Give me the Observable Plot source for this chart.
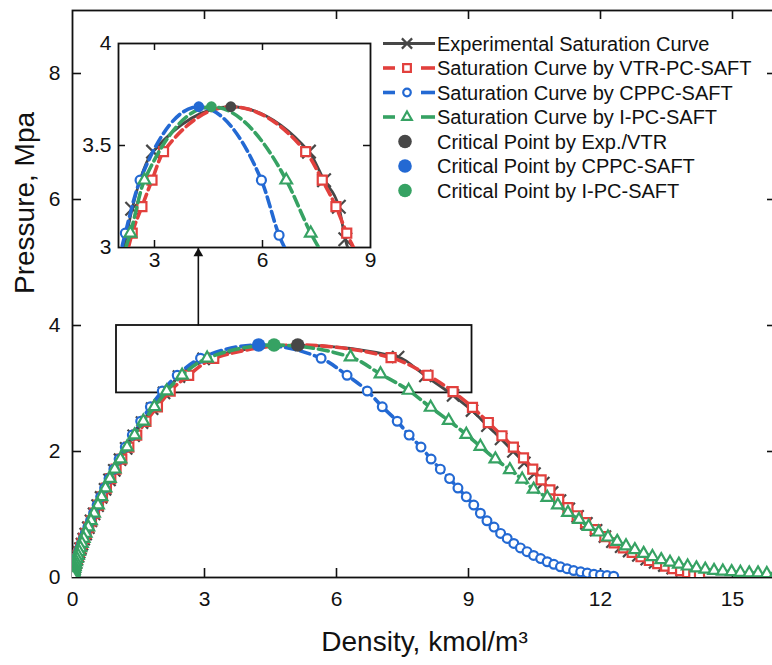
<!DOCTYPE html>
<html><head><meta charset="utf-8">
<script src="https://cdn.jsdelivr.net/npm/d3@7"></script>
<script src="https://cdn.jsdelivr.net/npm/@observablehq/plot@0.6"></script>
<style>
html,body{margin:0;padding:0;background:#fff;overflow:hidden;}
#wrap{position:relative;width:772px;height:665px;overflow:hidden;}
#wrap > *{position:absolute;}
</style></head><body><div id="wrap"></div>
<script>
// ---------- axes ----------
const X_TICKS = [0, 3, 6, 9, 12, 15];
const Y_TICKS = [0, 2, 4, 6, 8];
const X_DOMAIN = [0, 16];
const Y_DOMAIN = [0, 9];
const INSET_X_TICKS = [3, 6, 9];
const INSET_Y_TICKS = [3, 3.5, 4];
const INSET_X_DOMAIN = [2, 9];
const INSET_Y_DOMAIN = [3, 4];
const X_LABEL = "Density, kmol/m³";
const Y_LABEL = "Pressure, Mpa";

// ---------- data (density kmol/m3, pressure MPa) ----------
// shared pressure levels of the vapour branch markers
const P_GRID = [3.48,3.21,2.96,2.71,2.48,2.26,2.07,1.88,1.72,1.57,1.42,1.28,1.15,1.02,0.90,0.80,0.70,0.62,0.54,0.47,0.41,0.35,0.30,0.25,0.21,0.17,0.14,0.11,0.09,0.07,0.05,0.04,0.03,0.02];

// Experimental
const EXP_VAP_X = [2.98,2.42,2.08,1.81,1.58,1.39,1.22,1.08,0.95,0.84,0.74,0.65,0.57,0.49,0.42,0.36,0.30,0.255,0.215,0.18,0.15,0.125,0.10,0.08,0.065,0.05,0.04,0.03,0.024,0.018,0.012,0.008];
const EXP_VAP_P = [3.47,3.19,2.93,2.68,2.46,2.25,2.05,1.87,1.70,1.55,1.40,1.27,1.14,1.01,0.90,0.79,0.69,0.61,0.53,0.46,0.40,0.34,0.29,0.24,0.20,0.16,0.13,0.10,0.08,0.06,0.04,0.03];
const EXP_LIQ_X = [7.40,8.02,8.65,9.08,9.43,9.74,10.02,10.27,10.50,10.70,10.90,11.08,11.28,11.48,11.68,11.90,12.10,12.27,12.47,12.65,12.86,13.05,13.24,13.45,13.64,13.85,14.02];
const EXP_LIQ_P = [3.50,3.20,2.89,2.65,2.41,2.20,2.00,1.82,1.65,1.50,1.35,1.22,1.09,0.97,0.86,0.75,0.65,0.57,0.49,0.42,0.35,0.29,0.24,0.19,0.15,0.11,0.08];

// VTR-PC-SAFT
const VTR_VAP_X = [3.21,2.64,2.22,1.93,1.67,1.46,1.28,1.12,0.99,0.87,0.77,0.68,0.59,0.50,0.43,0.37,0.31,0.26,0.22,0.185,0.155,0.13,0.105,0.085,0.07,0.055,0.045,0.035,0.028,0.022,0.016,0.013,0.01,0.007];
const VTR_LIQ_X = [7.24,8.08,8.65,9.09,9.45,9.76,10.02,10.25,10.46,10.65,10.85,11.05,11.26,11.47,11.66,11.88,12.10,12.31,12.52,12.72,12.92,13.11,13.30,13.48,13.65,13.82,13.98,14.12,14.25];
const VTR_LIQ_P = [3.49,3.21,2.95,2.70,2.46,2.25,2.07,1.90,1.72,1.55,1.39,1.24,1.11,0.98,0.87,0.76,0.65,0.55,0.47,0.40,0.33,0.27,0.22,0.18,0.14,0.11,0.08,0.06,0.04];

// CPPC-SAFT
const CPPC_VAP_X = [2.91,2.38,2.04,1.77,1.55,1.36,1.20,1.06,0.94,0.83,0.73,0.64,0.56,0.48,0.41,0.35,0.29,0.25,0.21,0.17,0.145,0.12,0.10,0.08,0.065,0.05,0.04,0.03,0.025,0.02,0.015,0.012,0.009,0.006];
const CPPC_LIQ_X = [5.65,6.24,6.70,7.04,7.38,7.65,7.92,8.15,8.36,8.57,8.76,8.95,9.12,9.27,9.42,9.58,9.73,9.88,10.03,10.18,10.33,10.48,10.64,10.79,10.94,11.09,11.24,11.39,11.55,11.70,11.85,12.00,12.15,12.30];

// I-PC-SAFT
const IPC_VAP_X = [3.06,2.49,2.14,1.86,1.61,1.41,1.24,1.09,0.96,0.85,0.75,0.66,0.58,0.49,0.42,0.36,0.30,0.255,0.215,0.18,0.15,0.125,0.10,0.08,0.065,0.05,0.04,0.03,0.025,0.02,0.015,0.012,0.009,0.006];
const IPC_LIQ_X = [6.32,7.00,7.64,8.14,8.55,8.95,9.27,9.61,9.94,10.22,10.48,10.79,11.03,11.26,11.51,11.73,11.96,12.17,12.38,12.58,12.78,12.98,13.18,13.38,13.58,13.78,13.98,14.18,14.38,14.58,14.78,14.98,15.18,15.38,15.58,15.78,15.98];
const IPC_LIQ_P = [3.50,3.23,2.97,2.70,2.49,2.27,2.08,1.88,1.71,1.56,1.40,1.27,1.15,1.03,0.92,0.81,0.72,0.64,0.57,0.50,0.44,0.38,0.33,0.28,0.24,0.21,0.18,0.15,0.13,0.11,0.10,0.09,0.08,0.07,0.07,0.06,0.06];

// critical points
const CRIT_NAMES = ["Exp./VTR", "CPPC-SAFT", "I-PC-SAFT"];
const CRIT_X = [5.12, 4.23, 4.58];
const CRIT_P = [3.69, 3.69, 3.69];

// inset markers
const INSET_EXP_X = [2.38,2.96,7.29,7.71,8.12,8.30];
const INSET_EXP_P = [3.19,3.47,3.47,3.33,3.20,3.04];
const INSET_VTR_X = [2.38,2.65,2.93,3.25,7.20,7.66,8.04,8.34];
const INSET_VTR_P = [3.07,3.20,3.33,3.47,3.47,3.33,3.20,3.07];
const INSET_CPPC_X = [2.19,2.60,5.97,6.46];
const INSET_CPPC_P = [3.07,3.33,3.33,3.06];
const INSET_IPC_X = [2.33,2.72,6.66,7.34];
const INSET_IPC_P = [3.07,3.33,3.33,3.07];

// zoom box and arrow (main coordinates)
const ZOOM_BOX = {x1: 1.0, x2: 9.08, y1: 2.93, y2: 4.0};
const ARROW = {x: 2.86, y1: 4.0, y2: 5.24};

const LEGEND_LABELS = ["Experimental Saturation Curve","Saturation Curve by VTR-PC-SAFT","Saturation Curve by CPPC-SAFT","Saturation Curve by I-PC-SAFT","Critical Point by Exp./VTR","Critical Point by CPPC-SAFT","Critical Point by I-PC-SAFT"];

// ---------- build ----------
const FONT = "'Liberation Sans', Arial, Helvetica, sans-serif";
const COL = {exp: "#474747", vtr: "#e2403d", cppc: "#2369d3", ipc: "#36a263"};
const fmt = d3.format("~g");
const rows = (xs, ps) => xs.map((x, i) => ({x, p: ps[i]})).filter(d => d.p != null);
const crit = CRIT_X.map((x, i) => ({x, p: CRIT_P[i], name: CRIT_NAMES[i]}));
const critColors = [COL.exp, COL.cppc, COL.ipc];

const series = [
  {main: [...rows(EXP_VAP_X, EXP_VAP_P), ...rows(EXP_LIQ_X, EXP_LIQ_P)], inset: rows(INSET_EXP_X, INSET_EXP_P), color: COL.exp, symbol: "times", dash: null, lw: 2.8, r: 5.6, ri: 6.2, crit: crit[0]},
  {main: [...rows(VTR_VAP_X, P_GRID), ...rows(VTR_LIQ_X, VTR_LIQ_P)], inset: rows(INSET_VTR_X, INSET_VTR_P), color: COL.vtr, symbol: "square", dash: "10,5", lw: 3.6, r: 5.1, ri: 5.1, crit: crit[0]},
  {main: [...rows(CPPC_VAP_X, P_GRID), ...rows(CPPC_LIQ_X, P_GRID)], inset: rows(INSET_CPPC_X, INSET_CPPC_P), color: COL.cppc, symbol: "circle", dash: "10,5", lw: 3.6, r: 4.4, ri: 4.5, crit: crit[1]},
  {main: [...rows(IPC_VAP_X, P_GRID), ...rows(IPC_LIQ_X, IPC_LIQ_P)], inset: rows(INSET_IPC_X, INSET_IPC_P), color: COL.ipc, symbol: "triangle", dash: "10,5", lw: 3.6, r: 4.3, ri: 4.3, crit: crit[2]}
];
const lineData = (pts, c) => [...pts, c].sort((a, b) => a.x - b.x);

const wrap = document.getElementById("wrap");

// main chart
const W = 776, H = 665, ML = 72, MR = 0, MT = 10, MB = 88;
const PW = W - ML - MR, PH = H - MT - MB, TK = 9;
const mainMarks = [
  Plot.frame({stroke: "#111", strokeWidth: 1.8}),
  Plot.ruleX(X_TICKS.filter(v => v > X_DOMAIN[0]), {x: d => d, insetTop: PH - TK, stroke: "#111", strokeWidth: 1.6}),
  Plot.ruleX(X_TICKS.filter(v => v > X_DOMAIN[0]), {x: d => d, insetBottom: PH - TK, stroke: "#111", strokeWidth: 1.6}),
  Plot.ruleY(Y_TICKS.filter(v => v > Y_DOMAIN[0]), {y: d => d, insetRight: PW - TK, stroke: "#111", strokeWidth: 1.6}),
  Plot.ruleY(Y_TICKS.filter(v => v > Y_DOMAIN[0]), {y: d => d, insetLeft: PW - TK, stroke: "#111", strokeWidth: 1.6}),
  Plot.axisX(X_TICKS, {tickSize: 0, tickPadding: 14, fontSize: 21, label: null, tickFormat: fmt}),
  Plot.axisY(Y_TICKS, {tickSize: 0, tickPadding: 12, fontSize: 21, label: null, tickFormat: fmt}),
  Plot.text([X_LABEL], {frameAnchor: "bottom", dy: 73, lineAnchor: "bottom", fontSize: 28}),
  Plot.text([Y_LABEL], {frameAnchor: "left", dx: -39, rotate: -90, lineAnchor: "bottom", fontSize: 28}),
  Plot.rect([ZOOM_BOX], {x1: "x1", x2: "x2", y1: "y1", y2: "y2", fill: "none", stroke: "#111", strokeWidth: 1.8}),
  Plot.link([ARROW], {x1: "x", x2: "x", y1: "y1", y2: "y2", stroke: "#111", strokeWidth: 1.6}),
  Plot.dot([ARROW], {x: "x", y: "y2", symbol: "triangle", r: 3.6, fill: "#111", dy: 6})
];
for (const s of series) {
  mainMarks.push(Plot.line(lineData(s.main, s.crit), {x: "x", y: "p", curve: "monotone-x", stroke: s.color, strokeWidth: s.lw, strokeDasharray: s.dash, clip: true}));
  mainMarks.push(Plot.dot(s.main, {x: "x", y: "p", symbol: s.symbol, r: s.r, stroke: s.color, strokeWidth: 2.2, fill: "white", clip: true}));
}
mainMarks.push(Plot.dot(crit, {x: "x", y: "p", r: 6.8, fill: (d, i) => critColors[i]}));

const main = Plot.plot({
  width: W, height: H, marginLeft: ML, marginRight: MR, marginTop: MT, marginBottom: MB,
  x: {domain: X_DOMAIN, axis: null, label: null},
  y: {domain: Y_DOMAIN, axis: null, label: null},
  style: {fontFamily: FONT, fontSize: "21px", color: "#111", background: "transparent", maxWidth: "none"},
  marks: mainMarks
});
main.style.left = "0px"; main.style.top = "0px";
wrap.appendChild(main);

// inset chart
const IW = 302, IH = 250, IML = 40, IMR = 10, IMT = 16, IMB = 30;
const IPW = IW - IML - IMR, IPH = IH - IMT - IMB, ITK = 7;
const insetMarks = [
  Plot.frame({stroke: "#111", strokeWidth: 1.8}),
  Plot.ruleX(INSET_X_TICKS.filter(v => v < INSET_X_DOMAIN[1]), {x: d => d, insetTop: IPH - ITK, stroke: "#111", strokeWidth: 1.5}),
  Plot.ruleX(INSET_X_TICKS.filter(v => v < INSET_X_DOMAIN[1]), {x: d => d, insetBottom: IPH - ITK, stroke: "#111", strokeWidth: 1.5}),
  Plot.ruleY(INSET_Y_TICKS.filter(v => v > INSET_Y_DOMAIN[0] && v < INSET_Y_DOMAIN[1]), {y: d => d, insetRight: IPW - ITK, stroke: "#111", strokeWidth: 1.5}),
  Plot.ruleY(INSET_Y_TICKS.filter(v => v > INSET_Y_DOMAIN[0] && v < INSET_Y_DOMAIN[1]), {y: d => d, insetLeft: IPW - ITK, stroke: "#111", strokeWidth: 1.5}),
  Plot.axisX(INSET_X_TICKS, {tickSize: 0, tickPadding: 5, fontSize: 21, label: null, tickFormat: fmt}),
  Plot.axisY(INSET_Y_TICKS, {tickSize: 0, tickPadding: 7, fontSize: 21, label: null, tickFormat: fmt})
];
for (const s of series) {
  const ld = lineData([...s.inset, ...s.main.filter(d => d.p < INSET_Y_DOMAIN[0] + 0.05)], s.crit);
  insetMarks.push(Plot.line(ld, {x: "x", y: "p", curve: "monotone-x", stroke: s.color, strokeWidth: s.lw, strokeDasharray: s.dash, clip: true}));
  insetMarks.push(Plot.dot(s.inset, {x: "x", y: "p", symbol: s.symbol, r: s.ri, stroke: s.color, strokeWidth: 2.2, fill: "white", clip: true}));
}
insetMarks.push(Plot.dot(crit, {x: "x", y: "p", r: 5.4, fill: (d, i) => critColors[i]}));
const inset = Plot.plot({
  width: IW, height: IH, marginLeft: IML, marginRight: IMR, marginTop: IMT, marginBottom: IMB,
  x: {domain: INSET_X_DOMAIN, axis: null, label: null},
  y: {domain: INSET_Y_DOMAIN, axis: null, label: null},
  style: {fontFamily: FONT, fontSize: "21px", color: "#111", background: "transparent", maxWidth: "none"},
  marks: insetMarks
});
inset.style.left = (118 - IML) + "px"; inset.style.top = (43 - IMT) + "px";
wrap.appendChild(inset);

// legend
const lg = d3.create("svg").attr("width", 772).attr("height", 215)
  .style("left", "0px").style("top", "0px").style("font-family", FONT);
const legendItems = [
  {type: "line", color: COL.exp, sym: d3.symbolTimes, size: 70, solid: true},
  {type: "line", color: COL.vtr, sym: d3.symbolSquare, size: 60},
  {type: "line", color: COL.cppc, sym: d3.symbolCircle, size: 45},
  {type: "line", color: COL.ipc, sym: d3.symbolTriangle, size: 40},
  {type: "dot", color: COL.exp},
  {type: "dot", color: COL.cppc},
  {type: "dot", color: COL.ipc}
];
const LX0 = 383, LX1 = 435, LMX = 407, LTX = 437, LY0 = 43.5, LDY = 24.5;
LEGEND_LABELS.forEach((label, i) => {
  const it = legendItems[i], y = LY0 + i * LDY;
  const g = lg.append("g");
  if (it.type === "line") {
    if (it.solid) {
      g.append("line").attr("x1", LX0).attr("x2", LX1).attr("y1", y).attr("y2", y).attr("stroke", it.color).attr("stroke-width", 2.8);
    } else {
      g.append("line").attr("x1", LX0).attr("x2", LX0 + 12).attr("y1", y).attr("y2", y).attr("stroke", it.color).attr("stroke-width", 3.6);
      g.append("line").attr("x1", LX1 - 14).attr("x2", LX1).attr("y1", y).attr("y2", y).attr("stroke", it.color).attr("stroke-width", 3.6);
    }
    g.append("path").attr("d", d3.symbol(it.sym, it.size)()).attr("transform", `translate(${LMX},${y})`)
      .attr("fill", "white").attr("stroke", it.color).attr("stroke-width", 2.2);
  } else {
    g.append("circle").attr("cx", LMX - 2).attr("cy", y).attr("r", 6.8).attr("fill", it.color);
  }
  g.append("text").attr("x", LTX).attr("y", y).attr("dy", "0.35em").attr("font-size", 20).attr("fill", "#111").text(label);
});
wrap.appendChild(lg.node());
</script></body></html>
